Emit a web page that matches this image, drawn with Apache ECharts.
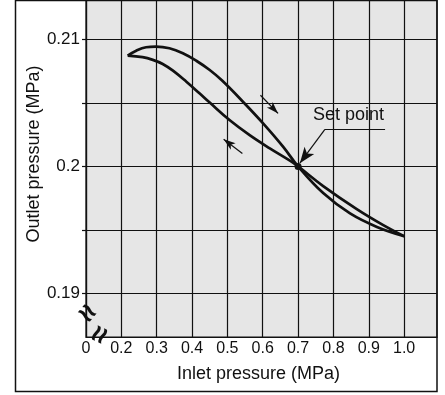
<!DOCTYPE html>
<html>
<head>
<meta charset="utf-8">
<script src="https://cdn.jsdelivr.net/npm/echarts@6/dist/echarts.min.js"></script>
<style>
  html, body { margin: 0; padding: 0; background: #fff; }
  #chart { width: 445px; height: 395px; }
</style>
</head>
<body>
<div id="chart"></div>
<script>
// Inlet pressure (MPa) sampled along the branch where inlet pressure rises
const risingInlet = [0.218, 0.242, 0.270, 0.298, 0.336, 0.374, 0.412, 0.450, 0.485, 0.544, 0.601, 0.658, 0.700, 0.771, 0.847, 0.923, 1.000];
// Outlet pressure (MPa) on that branch
const risingOutlet = [0.20871, 0.20910, 0.20937, 0.20942, 0.20929, 0.20890, 0.20831, 0.20758, 0.20675, 0.20509, 0.20339, 0.20154, 0.20000, 0.19790, 0.19630, 0.19524, 0.19451];

// Inlet / outlet pressure (MPa) on the branch where inlet pressure falls
const fallingInlet = [1.000, 0.941, 0.866, 0.771, 0.700, 0.677, 0.620, 0.563, 0.506, 0.450, 0.421, 0.384, 0.346, 0.317, 0.289, 0.260, 0.218];
const fallingOutlet = [0.19451, 0.19538, 0.19664, 0.19845, 0.20000, 0.20045, 0.20142, 0.20246, 0.20365, 0.20502, 0.20575, 0.20666, 0.20753, 0.20806, 0.20838, 0.20859, 0.20871];

// Axis ticks; the first inlet tick stands for the broken origin "0"
const xTickValues = [0.1, 0.2, 0.3, 0.4, 0.5, 0.6, 0.7, 0.8, 0.9, 1.0];
const xTickLabels = ['0', '0.2', '0.3', '0.4', '0.5', '0.6', '0.7', '0.8', '0.9', '1.0'];
const yTickValues = [0.19, 0.195, 0.2, 0.205, 0.21];
const yTickLabels = ['0.19', '', '0.2', '', '0.21'];

// Set point and direction arrows (inlet, outlet)
const setPoint = [0.7, 0.2];
const risingArrow = [[0.5935, 0.20560], [0.6434, 0.20417]];
const fallingArrow = [[0.5424, 0.20102], [0.4894, 0.20213]];
const setPointLeader = [[0.9461, 0.20291], [0.7759, 0.20291], [0.7050, 0.20025]];
const setPointText = [0.8426, 0.20403];

// Axis-break marks (inlet, outlet)
const yBreakAt = [0.1, 0.18837];
const xBreakAt = [0.1424, 0.18672];

const FONT = 'Liberation Sans, Arial, Helvetica, sans-serif';
const INK = '#111';

function pairs(xs, ys) { return xs.map((x, i) => [x, ys[i]]); }
function labelFor(values, labels) {
  return v => {
    const i = values.findIndex(t => Math.abs(t - v) < 1e-6);
    return i >= 0 ? labels[i] : '';
  };
}
function textPoint(coord, text, size, rotate, weight) {
  return {
    coord: coord, symbol: 'circle', symbolSize: 0,
    label: {
      show: true, position: 'inside', formatter: text, rotate: rotate || 0,
      fontFamily: FONT, fontSize: size, fontWeight: weight || 'normal', color: INK
    }
  };
}

const chart = echarts.init(document.getElementById('chart'), null, { renderer: 'canvas' });

chart.setOption({
  animation: false,
  backgroundColor: '#fff',
  grid: {
    left: 86, right: 8, top: 0, bottom: 58,
    show: true,
    backgroundColor: '#e6e6e6',
    borderColor: INK,
    borderWidth: 1.2
  },
  xAxis: {
    type: 'value',
    min: 0.1,
    max: 1.093,
    name: 'Inlet pressure (MPa)',
    nameLocation: 'middle',
    nameGap: 28,
    nameTextStyle: { fontFamily: FONT, fontSize: 18, color: INK, padding: [0, 6, 0, 0] },
    axisLine: { show: true, onZero: false, lineStyle: { color: INK, width: 1.2 } },
    axisTick: { show: false, customValues: xTickValues },
    axisLabel: {
      customValues: xTickValues,
      formatter: labelFor(xTickValues, xTickLabels),
      fontFamily: FONT, fontSize: 16, color: INK, margin: 4
    },
    splitLine: { show: true, lineStyle: { color: INK, width: 1.2 } }
  },
  yAxis: {
    type: 'value',
    min: 0.18658,
    max: 0.21309,
    axisLine: { show: true, onZero: false, lineStyle: { color: INK, width: 1.2 } },
    axisTick: { show: true, length: 4, customValues: yTickValues, lineStyle: { color: INK, width: 1.2 } },
    axisLabel: {
      customValues: yTickValues,
      formatter: labelFor(yTickValues, yTickLabels),
      fontFamily: FONT, fontSize: 17, color: INK, margin: 6
    },
    splitLine: { show: true, lineStyle: { color: INK, width: 1.2 } }
  },
  graphic: [
    {
      type: 'rect',
      shape: { x: 15.5, y: 0.5, width: 421.5, height: 391 },
      style: { fill: 'none', stroke: INK, lineWidth: 1.5 },
      silent: true
    },
    {
      type: 'text',
      x: 34, y: 154,
      rotation: Math.PI / 2,
      style: {
        text: 'Outlet pressure (MPa)',
        fontFamily: FONT, fontSize: 18, fill: INK,
        align: 'center', verticalAlign: 'middle'
      },
      silent: true
    }
  ],
  series: [
    {
      name: 'Inlet rising',
      type: 'line',
      data: pairs(risingInlet, risingOutlet),
      smooth: 0.4,
      symbol: 'none',
      lineStyle: { color: INK, width: 2.7 },
      markLine: {
        silent: true,
        animation: false,
        label: { show: false },
        lineStyle: { color: INK, width: 1.2, type: 'solid' },
        data: [
          [{ coord: risingArrow[0], symbol: 'none' }, { coord: risingArrow[1], symbol: 'arrow', symbolSize: [6, 12] }],
          [{ coord: fallingArrow[0], symbol: 'none' }, { coord: fallingArrow[1], symbol: 'arrow', symbolSize: [6, 12] }],
          [{ coord: setPointLeader[0], symbol: 'none' }, { coord: setPointLeader[1], symbol: 'none' }],
          [{ coord: setPointLeader[1], symbol: 'none' }, { coord: setPointLeader[2], symbol: 'arrow', symbolSize: [9, 16] }]
        ]
      },
      markPoint: {
        silent: true,
        animation: false,
        data: [
          { coord: setPoint, symbol: 'circle', symbolSize: 7, itemStyle: { color: INK }, label: { show: false } },
          textPoint(setPointText, 'Set point', 18),
          textPoint(yBreakAt, '\u2248', 30, -40, 'bold'),
          textPoint(xBreakAt, '\u2248', 30, 65, 'bold')
        ]
      }
    },
    {
      name: 'Inlet falling',
      type: 'line',
      data: pairs(fallingInlet, fallingOutlet),
      smooth: 0.4,
      symbol: 'none',
      lineStyle: { color: INK, width: 2.7 }
    }
  ]
});
</script>
</body>
</html>
